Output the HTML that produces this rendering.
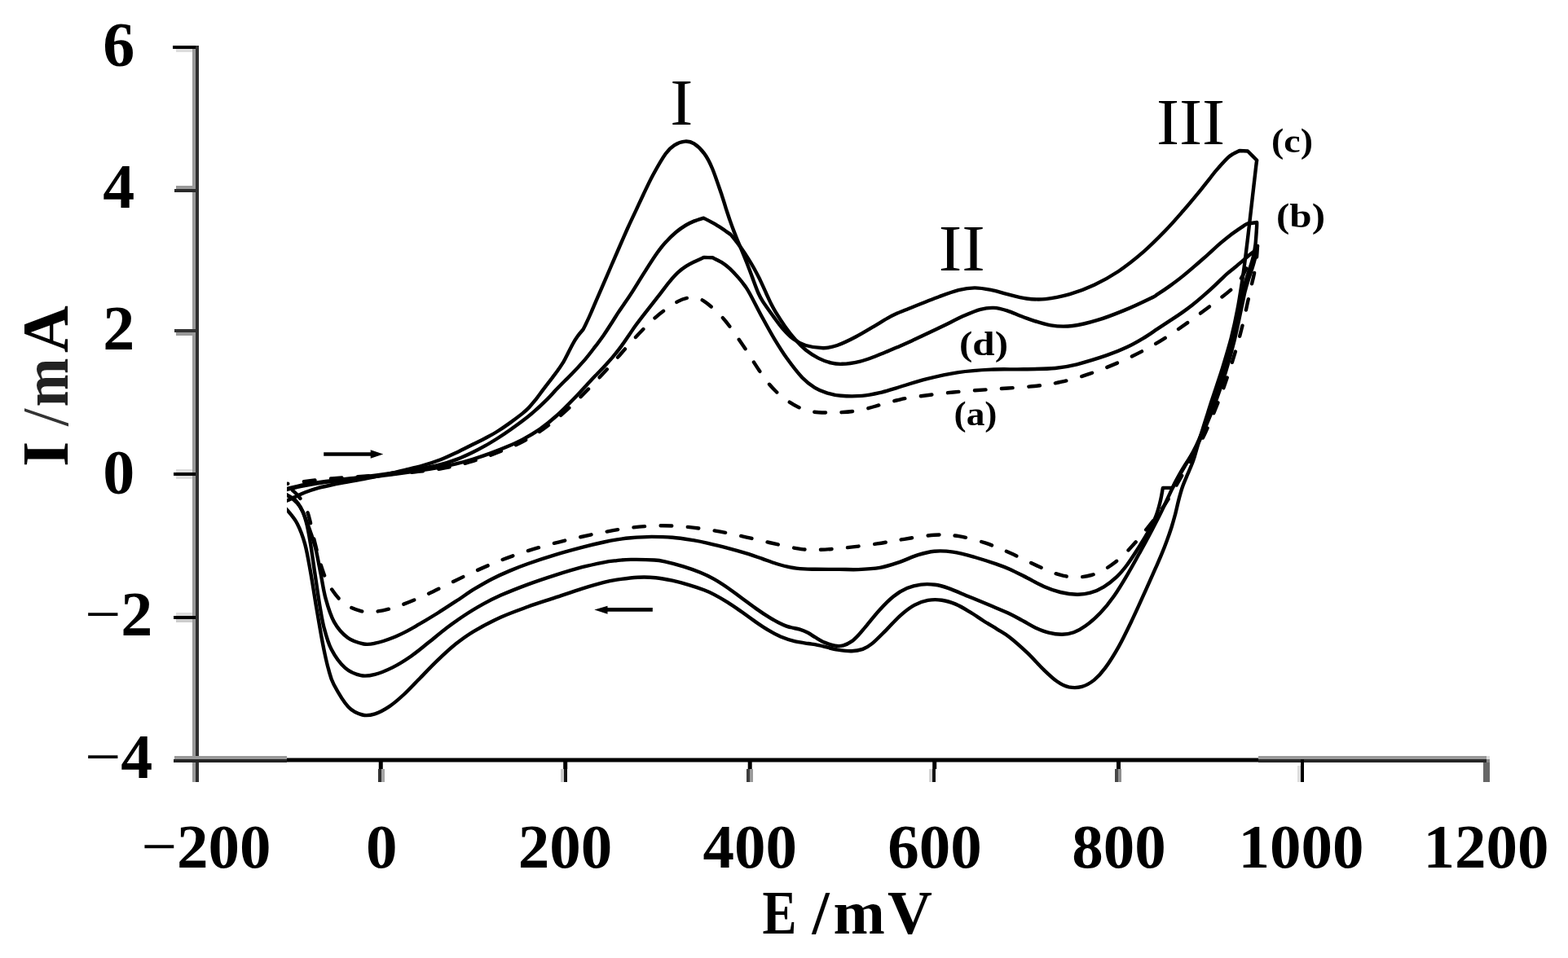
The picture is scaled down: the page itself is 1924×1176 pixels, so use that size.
<!DOCTYPE html>
<html><head><meta charset="utf-8"><title>Cyclic voltammograms</title>
<style>html,body{margin:0;padding:0;background:#fff}svg{display:block}</style></head>
<body>
<svg width="1924" height="1176" viewBox="0 0 1924 1176">
<rect width="1924" height="1176" fill="#fff"/>
<defs><clipPath id="cp"><rect x="352" y="0" width="1572" height="1176"/></clipPath></defs>
<rect x="236" y="58" width="4" height="902" fill="#999"/><rect x="240" y="56" width="4" height="904" fill="#2e2e2e"/>
<rect x="212" y="56" width="28" height="4" fill="#000"/><rect x="216" y="60" width="20" height="4" fill="#ddd"/>
<rect x="216" y="228" width="20" height="4" fill="#999"/><rect x="214" y="232" width="26" height="4" fill="#2a2a2a"/>
<rect x="214" y="404" width="26" height="4" fill="#333"/><rect x="216" y="408" width="20" height="4" fill="#999"/>
<rect x="213" y="580" width="27" height="4" fill="#000"/><rect x="216" y="576" width="20" height="4" fill="#ddd"/><rect x="216" y="584" width="20" height="4" fill="#ddd"/>
<rect x="213" y="756" width="27" height="4" fill="#000"/><rect x="216" y="752" width="20" height="4" fill="#ddd"/><rect x="216" y="760" width="20" height="4" fill="#ccc"/>
<rect x="214" y="928" width="138" height="4" fill="#999"/><rect x="213" y="932" width="139" height="4" fill="#222"/>
<rect x="1544" y="928" width="280" height="4" fill="#999"/><rect x="1544" y="932" width="280" height="4" fill="#262626"/><rect x="1824" y="928" width="4" height="4" fill="#ddd"/>
<rect x="352" y="930.5" width="1192" height="5" fill="#000"/>
<rect x="464.75" y="933" width="5" height="11" fill="#000"/>
<rect x="691.20" y="933" width="5" height="11" fill="#000"/>
<rect x="917.70" y="933" width="5" height="11" fill="#000"/>
<rect x="1144.20" y="933" width="5" height="11" fill="#000"/>
<rect x="1370.00" y="933" width="5" height="11" fill="#000"/>
<rect x="464" y="944" width="4" height="16" fill="rgb(49,49,49)"/>
<rect x="468" y="944" width="4" height="16" fill="rgb(166,166,166)"/>
<rect x="688" y="944" width="4" height="16" fill="rgb(202,202,202)"/>
<rect x="692" y="944" width="4" height="16" fill="rgb(20,20,20)"/>
<rect x="916" y="944" width="4" height="16" fill="rgb(61,61,61)"/>
<rect x="920" y="944" width="4" height="16" fill="rgb(155,155,155)"/>
<rect x="1140" y="944" width="4" height="16" fill="rgb(213,213,213)"/>
<rect x="1144" y="944" width="4" height="16" fill="rgb(20,20,20)"/>
<rect x="1368" y="944" width="4" height="16" fill="rgb(72,72,72)"/>
<rect x="1372" y="944" width="4" height="16" fill="rgb(143,143,143)"/>
<rect x="1596" y="932" width="4" height="28" fill="#000"/><rect x="1592" y="940" width="4" height="20" fill="#ddd"/>
<rect x="1820" y="936" width="8" height="24" fill="#666"/><rect x="1824" y="932" width="4" height="4" fill="#888"/>
<g clip-path="url(#cp)" fill="none" stroke="#000" stroke-width="4.4" stroke-linecap="round" stroke-linejoin="round">
<path d="M340.0 619.0C342.0 618.3 348.3 616.1 351.8 614.6C355.4 613.2 357.6 611.9 361.3 610.3C365.0 608.6 369.2 606.4 374.1 604.5C379.1 602.6 385.3 600.5 391.0 598.9C396.6 597.4 402.3 596.2 408.0 595.0C413.7 593.9 417.9 593.2 425.0 591.9C432.1 590.6 442.0 588.9 450.5 587.2C459.0 585.5 467.7 583.7 476.0 581.9C484.2 580.1 492.7 578.0 500.1 576.2C507.4 574.4 513.4 573.0 520.0 571.0C526.7 569.1 533.2 567.1 539.9 564.5C546.6 561.9 553.6 558.6 560.4 555.4C567.1 552.3 574.4 548.4 580.2 545.5C586.0 542.6 590.3 540.6 595.3 538.0C600.3 535.3 605.3 532.7 610.4 529.5C615.6 526.3 621.0 522.6 626.1 518.9C631.2 515.2 637.4 510.5 641.3 507.4C645.1 504.2 646.5 502.9 649.2 500.1C652.0 497.2 654.7 493.8 657.7 490.1C660.6 486.4 663.6 482.1 666.8 477.9C670.0 473.6 674.1 468.3 677.0 464.6C679.8 460.8 681.8 458.3 684.0 455.2C686.2 452.2 688.8 448.3 690.2 446.1C691.7 443.9 690.5 446.0 692.6 442.0C694.8 437.9 700.4 426.6 703.1 421.7C705.8 416.8 707.0 415.3 709.0 412.4C711.1 409.6 714.4 405.8 715.5 404.5C716.3 403.0 718.4 398.9 720.0 395.4C721.7 391.9 723.5 387.9 725.4 383.5C727.3 379.2 729.4 374.1 731.4 369.4C733.5 364.7 735.7 359.5 737.6 355.2C739.5 350.9 740.4 348.6 742.7 343.4C744.9 338.2 748.2 330.7 751.0 324.0C753.9 317.4 756.7 310.8 759.9 303.5C763.1 296.1 766.9 287.5 770.2 280.0C773.6 272.5 777.0 265.3 780.2 258.6C783.3 251.9 785.6 247.0 789.0 239.7C792.5 232.5 796.4 223.7 801.0 215.2C805.7 206.6 812.5 194.6 816.9 188.5C821.3 182.3 823.4 180.8 827.3 178.3C831.3 175.8 836.6 173.9 840.6 173.6C844.7 173.3 847.8 173.9 851.7 176.4C855.6 178.9 860.4 183.3 864.1 188.4C867.9 193.5 870.5 198.4 874.1 207.0C877.7 215.6 883.0 231.9 885.8 239.9C888.5 248.0 889.0 250.2 890.6 255.3C892.3 260.4 894.0 265.7 895.7 270.6C897.4 275.5 899.2 280.4 900.9 284.9C902.6 289.3 904.2 293.0 905.8 297.1C907.5 301.2 909.1 304.8 911.0 309.4C912.9 314.0 915.2 319.6 917.2 324.7C919.2 329.8 920.7 334.3 923.0 340.1C925.2 346.0 928.3 354.9 930.6 360.0C932.8 365.0 933.2 365.7 936.2 370.4C939.3 375.1 944.8 382.7 948.7 388.1C952.6 393.4 955.5 397.9 959.6 402.5C963.7 407.2 968.5 412.5 973.3 416.1C978.2 419.7 982.6 422.2 988.7 424.0C994.9 425.9 1003.8 427.2 1010.2 427.2C1016.7 427.2 1020.6 426.3 1027.2 424.0C1033.8 421.7 1042.4 417.5 1050.0 413.5C1057.6 409.6 1066.4 404.1 1072.9 400.3C1079.3 396.5 1084.1 393.4 1088.6 390.9C1093.1 388.3 1096.4 386.7 1099.9 385.1C1103.4 383.4 1100.9 384.5 1109.7 381.0C1118.5 377.5 1141.7 368.1 1152.8 364.0C1163.9 359.8 1168.9 357.9 1176.1 356.1C1183.3 354.4 1189.3 353.5 1196.0 353.4C1202.6 353.4 1209.3 354.6 1216.0 355.9C1222.6 357.1 1228.7 359.5 1236.0 361.2C1243.2 363.0 1251.7 365.5 1259.5 366.5C1267.3 367.5 1273.9 368.0 1282.7 367.1C1291.6 366.2 1302.6 364.0 1312.6 361.2C1322.6 358.3 1332.7 354.5 1342.7 349.8C1352.7 345.1 1362.5 339.6 1372.5 333.0C1382.4 326.3 1393.0 317.9 1402.5 309.7C1412.0 301.4 1421.3 291.9 1429.5 283.5C1437.8 275.0 1445.0 266.6 1451.8 258.8C1458.6 251.1 1464.9 243.5 1470.3 236.9C1475.7 230.3 1480.6 223.9 1484.3 219.3C1487.9 214.7 1488.7 213.4 1492.4 209.1C1496.2 204.8 1503.2 197.0 1506.6 193.7C1510.1 190.3 1510.6 190.4 1513.0 189.0C1515.4 187.5 1519.7 185.7 1521.0 185.0C1522.7 185.1 1529.3 185.4 1531.0 185.5C1532.9 187.4 1540.3 194.8 1542.2 196.7C1542.0 198.1 1542.0 197.5 1541.1 205.0C1540.2 212.5 1538.2 230.1 1536.9 241.6C1535.6 253.1 1534.5 262.5 1533.2 274.0C1531.9 285.6 1530.2 299.8 1528.8 311.0C1527.4 322.1 1526.5 329.5 1524.8 341.0C1523.0 352.5 1520.8 367.7 1518.4 380.0C1516.1 392.3 1513.8 402.7 1510.7 415.0C1507.5 427.2 1503.5 440.3 1499.5 453.5C1495.4 466.7 1490.5 480.4 1486.1 494.0C1481.8 507.7 1476.5 524.1 1473.2 535.1C1469.8 546.1 1467.7 554.2 1465.9 560.0C1464.1 565.7 1464.1 565.8 1462.5 569.8C1461.0 573.8 1458.4 579.4 1456.5 583.9C1454.6 588.5 1452.7 592.6 1451.1 597.2C1449.5 601.7 1448.4 605.8 1446.9 611.4C1445.4 616.9 1443.8 624.5 1442.3 630.5C1440.7 636.4 1439.3 641.4 1437.6 647.0C1435.8 652.6 1433.8 658.4 1431.8 663.8C1429.8 669.3 1427.9 674.3 1425.5 679.9C1423.2 685.6 1421.5 689.3 1417.8 697.7C1414.1 706.1 1408.1 719.7 1403.3 730.2C1398.5 740.7 1394.3 750.4 1389.2 760.9C1384.1 771.5 1378.3 783.7 1372.8 793.6C1367.3 803.4 1361.3 813.0 1356.2 819.9C1351.1 826.8 1347.1 831.0 1342.4 834.9C1337.6 838.7 1332.7 841.5 1327.6 842.9C1322.4 844.4 1316.6 844.4 1311.5 843.4C1306.5 842.3 1302.2 840.1 1297.1 836.5C1291.9 833.0 1286.8 828.0 1280.7 822.1C1274.7 816.3 1267.5 808.0 1260.6 801.4C1253.6 794.8 1245.2 787.3 1239.1 782.5C1233.1 777.8 1229.7 776.2 1224.2 772.8C1218.8 769.4 1212.4 765.7 1206.6 762.0C1200.8 758.3 1195.3 754.3 1189.6 750.9C1184.0 747.5 1178.2 743.9 1172.6 741.6C1166.9 739.2 1161.2 737.4 1155.6 736.7C1149.9 735.9 1144.1 735.9 1138.5 736.9C1132.9 737.9 1127.5 739.7 1121.9 742.9C1116.2 746.0 1110.2 750.8 1104.5 755.8C1098.8 760.9 1093.4 767.4 1087.7 773.1C1082.0 778.7 1075.2 785.9 1070.3 789.9C1065.5 793.8 1062.8 795.3 1058.6 796.9C1054.4 798.4 1050.1 799.2 1045.0 799.3C1039.9 799.5 1033.7 798.6 1028.0 797.7C1022.4 796.7 1015.7 794.7 1011.0 793.6C1006.3 792.5 1003.2 791.8 1000.0 791.2C996.7 790.6 995.9 790.7 991.7 790.0C987.5 789.3 980.4 788.6 974.8 787.2C969.1 785.7 962.9 783.6 957.8 781.5C952.6 779.3 948.9 777.2 943.8 774.2C938.7 771.2 932.8 767.3 927.2 763.4C921.6 759.6 915.7 755.1 910.0 751.0C904.2 747.0 898.4 742.9 892.8 739.4C887.2 735.9 881.1 732.4 876.3 729.9C871.5 727.4 869.0 726.2 863.9 724.3C858.7 722.3 852.0 720.0 845.5 718.1C839.1 716.2 831.8 714.2 825.0 712.7C818.2 711.2 811.7 709.8 804.6 709.2C797.5 708.5 790.5 708.3 782.6 708.7C774.6 709.2 763.8 710.6 756.9 711.6C749.9 712.7 748.0 713.0 740.9 714.9C733.8 716.7 724.2 719.5 714.2 722.6C704.2 725.8 692.1 730.0 681.0 733.7C669.9 737.4 658.8 740.8 647.8 744.8C636.8 748.8 626.0 752.5 614.9 757.5C603.9 762.5 590.8 769.4 581.6 774.8C572.3 780.3 566.9 784.4 559.5 790.3C552.2 796.2 544.7 803.1 537.4 810.2C530.0 817.2 522.3 825.4 515.4 832.5C508.4 839.5 501.9 846.6 495.6 852.5C489.3 858.3 483.4 863.5 477.5 867.4C471.6 871.4 465.6 874.6 460.1 876.3C454.6 878.0 450.0 878.9 444.6 877.5C439.1 876.1 433.3 874.0 427.4 867.8C421.6 861.6 413.7 848.0 409.6 840.3C405.5 832.5 404.9 827.9 403.0 821.2C401.0 814.5 399.5 807.0 398.0 800.0C396.5 792.9 395.6 787.9 393.9 778.7C392.3 769.4 390.2 757.3 388.0 744.5C385.9 731.7 383.3 714.7 381.0 701.9C378.7 689.2 376.9 677.7 374.2 667.9C371.5 658.0 368.4 649.9 364.8 642.9C361.1 636.0 356.6 630.9 352.5 626.3C348.3 621.6 342.1 616.9 340.0 615.0"/>
<path d="M340.0 603.0C342.0 602.5 346.3 601.3 352.0 600.0C357.7 598.6 366.1 596.5 374.0 595.0C381.9 593.6 388.2 592.5 399.5 591.0C410.9 589.4 429.2 587.4 441.9 585.9C454.7 584.3 464.2 583.1 476.1 581.5C487.9 579.9 502.4 577.9 513.0 576.0C523.7 574.2 532.0 572.5 539.9 570.5C547.8 568.5 553.8 566.4 560.5 563.9C567.1 561.4 574.2 558.1 580.0 555.3C585.8 552.5 590.2 550.1 595.4 547.2C600.5 544.3 605.5 541.2 610.6 538.0C615.7 534.8 620.8 531.4 625.9 527.8C631.0 524.2 636.2 520.5 641.3 516.6C646.4 512.7 651.4 508.7 656.5 504.2C661.5 499.8 667.4 494.1 671.7 489.9C675.9 485.6 678.6 482.5 682.0 478.8C685.5 475.2 689.3 471.3 692.6 468.0C695.8 464.7 697.5 463.4 701.6 459.1C705.7 454.8 712.5 447.4 717.2 442.1C721.8 436.7 725.5 431.8 729.4 426.7C733.4 421.6 737.3 416.2 740.7 411.4C744.0 406.7 746.6 402.6 749.5 398.0C752.5 393.5 755.6 388.3 758.3 384.1C761.1 379.9 763.4 376.7 766.1 372.7C768.8 368.7 770.5 366.7 774.6 360.2C778.7 353.8 785.7 342.2 790.9 334.1C796.1 325.9 801.4 317.5 805.8 311.3C810.2 305.2 813.1 301.4 817.1 297.1C821.0 292.7 825.4 288.5 829.5 285.0C833.6 281.6 837.7 278.8 841.5 276.5C845.2 274.2 848.3 272.9 851.9 271.4C855.5 269.9 861.4 268.2 863.3 267.6C865.3 268.6 871.3 271.7 875.2 273.9C879.1 276.1 882.9 278.5 886.5 280.8C890.1 283.2 895.0 286.8 896.7 288.0C897.9 289.5 901.6 294.0 904.0 297.1C906.3 300.1 908.5 302.9 910.9 306.4C913.3 309.8 915.8 313.7 918.2 317.6C920.7 321.5 923.0 325.5 925.4 329.8C927.7 334.0 929.9 338.1 932.4 343.1C934.8 348.2 938.2 355.6 940.2 360.2C942.3 364.7 943.1 366.7 944.9 370.4C946.8 374.1 948.3 377.2 951.3 382.3C954.4 387.4 959.3 395.1 963.4 400.9C967.5 406.7 971.7 412.2 976.0 417.0C980.3 421.9 984.5 426.2 989.2 430.0C993.9 433.7 999.1 437.0 1004.1 439.6C1009.2 442.2 1014.6 444.1 1019.4 445.3C1024.3 446.5 1027.5 447.1 1033.3 446.8C1039.2 446.6 1047.9 445.3 1054.6 443.8C1061.2 442.3 1067.6 439.8 1073.2 437.7C1078.8 435.7 1083.9 433.5 1088.3 431.6C1092.8 429.8 1094.8 428.9 1100.1 426.6C1105.3 424.3 1110.9 421.9 1119.7 417.9C1128.5 413.8 1142.3 407.4 1152.8 402.3C1163.3 397.3 1174.5 391.4 1182.9 387.6C1191.3 383.9 1196.9 381.4 1203.0 379.8C1209.1 378.2 1214.0 377.6 1219.5 377.9C1224.9 378.2 1229.1 379.3 1235.8 381.4C1242.5 383.5 1250.6 387.7 1259.6 390.7C1268.5 393.7 1280.1 397.9 1289.5 399.4C1298.9 400.9 1306.5 401.0 1315.9 400.0C1325.3 398.9 1335.5 396.4 1346.0 393.2C1356.5 390.1 1368.0 385.6 1379.0 381.1C1390.1 376.5 1405.5 369.2 1412.3 365.9C1419.2 362.6 1416.3 363.9 1420.1 361.4C1424.0 358.9 1430.3 354.7 1435.3 351.1C1440.4 347.4 1445.4 343.7 1450.5 339.6C1455.6 335.6 1460.9 331.0 1466.0 326.6C1471.1 322.2 1476.1 317.8 1481.2 313.3C1486.2 308.8 1491.6 303.8 1496.3 299.7C1501.0 295.7 1504.4 292.6 1509.3 288.9C1514.2 285.2 1521.9 280.0 1525.5 277.6C1529.1 275.2 1530.1 275.0 1531.0 274.5C1532.9 274.2 1540.3 273.2 1542.2 273.0C1542.2 274.2 1542.3 275.5 1542.0 280.0C1541.7 284.5 1541.1 294.2 1540.5 300.0C1539.8 305.8 1538.9 310.3 1537.8 315.0C1536.8 319.6 1535.4 323.6 1534.0 328.0C1532.6 332.3 1531.1 336.1 1529.7 341.1C1528.2 346.1 1526.6 351.5 1525.1 358.0C1523.6 364.5 1522.7 370.2 1520.6 380.0C1518.5 389.8 1515.6 404.4 1512.5 416.9C1509.3 429.4 1505.8 442.0 1501.8 455.1C1497.7 468.1 1493.5 481.1 1488.4 495.2C1483.3 509.2 1475.6 529.1 1471.2 539.6C1466.8 550.1 1465.2 552.2 1462.0 558.2C1458.7 564.2 1455.2 570.0 1451.9 575.6C1448.6 581.3 1444.6 588.1 1442.3 592.3C1440.0 596.5 1439.9 596.7 1437.9 600.8C1435.9 605.0 1432.8 611.7 1430.2 617.3C1427.6 622.8 1424.9 628.5 1422.1 634.0C1419.3 639.6 1417.3 643.4 1413.5 650.6C1409.7 657.8 1404.3 667.9 1399.2 677.1C1394.2 686.3 1388.6 696.7 1383.1 705.8C1377.7 715.0 1372.0 724.5 1366.5 732.2C1361.0 740.0 1355.8 746.5 1350.0 752.6C1344.3 758.6 1337.4 764.4 1332.0 768.3C1326.6 772.3 1322.4 774.4 1317.6 776.2C1312.8 777.9 1308.5 778.7 1303.3 778.8C1298.2 778.9 1292.2 778.0 1286.8 776.6C1281.4 775.3 1275.8 773.0 1270.8 770.7C1265.7 768.4 1261.6 765.6 1256.4 762.8C1251.2 760.0 1246.4 757.0 1239.5 753.7C1232.7 750.5 1223.6 746.8 1215.3 743.3C1207.0 739.8 1198.3 736.3 1189.7 732.7C1181.1 729.2 1171.0 724.6 1163.9 722.1C1156.8 719.6 1152.7 718.5 1147.0 717.8C1141.3 717.0 1135.6 716.9 1130.0 717.6C1124.3 718.3 1118.6 719.6 1113.0 722.1C1107.4 724.5 1101.8 727.8 1096.2 732.3C1090.5 736.9 1084.6 743.0 1078.9 749.2C1073.2 755.4 1066.1 764.6 1061.9 769.6C1057.7 774.6 1056.6 776.3 1053.7 779.2C1050.9 782.2 1048.0 785.3 1044.9 787.4C1041.7 789.6 1038.1 791.5 1034.7 792.4C1031.4 793.3 1028.6 793.4 1024.6 792.7C1020.7 792.0 1015.1 790.1 1011.0 788.4C1007.0 786.6 1003.4 784.1 1000.1 782.2C996.9 780.3 994.6 778.4 991.5 776.8C988.4 775.2 985.0 773.8 981.4 772.7C977.7 771.6 973.1 771.0 969.7 770.0C966.3 769.1 965.3 769.2 961.0 767.1C956.7 765.1 949.6 761.3 944.0 757.8C938.3 754.4 932.7 750.6 927.1 746.6C921.4 742.6 915.6 738.2 909.9 734.0C904.3 729.9 898.9 725.6 893.2 721.7C887.5 717.8 881.4 713.8 875.7 710.6C870.1 707.4 865.5 705.2 859.3 702.7C853.0 700.2 845.5 697.6 838.4 695.4C831.3 693.2 822.7 690.9 816.7 689.6C810.8 688.3 809.9 687.9 802.8 687.5C795.6 687.0 781.7 686.8 774.0 686.9C766.4 687.0 762.5 687.5 756.9 688.1C751.4 688.7 748.0 688.9 740.9 690.3C733.8 691.7 724.2 693.6 714.3 696.2C704.3 698.9 692.1 702.6 681.0 706.1C670.0 709.6 658.9 713.3 647.9 717.4C636.9 721.5 624.0 726.6 614.8 730.6C605.6 734.7 600.0 737.6 592.6 741.6C585.3 745.7 577.8 750.1 570.5 755.0C563.1 759.8 555.9 765.0 548.5 770.5C541.2 776.1 533.8 782.4 526.4 788.3C519.0 794.1 511.5 800.5 504.1 805.7C496.7 810.8 489.4 815.4 482.1 819.1C474.7 822.8 466.7 826.2 460.1 827.8C453.6 829.5 448.9 830.4 442.8 829.1C436.7 827.8 429.5 825.2 423.5 819.9C417.4 814.6 410.9 805.4 406.6 797.1C402.3 788.8 400.0 779.7 397.5 770.2C395.0 760.7 393.8 751.7 391.8 740.0C389.9 728.3 387.6 711.7 385.8 700.0C384.1 688.3 382.9 679.1 381.4 669.9C379.9 660.8 378.4 652.1 376.8 645.0C375.1 638.0 373.4 632.4 371.4 627.8C369.4 623.2 367.8 620.7 364.6 617.4C361.4 614.0 356.1 610.2 352.0 607.7C347.9 605.1 342.0 602.9 340.0 602.0"/>
<path d="M340.0 604.0C342.0 603.5 346.3 602.3 352.0 601.0C357.7 599.6 366.1 597.5 374.0 596.0C381.9 594.5 388.2 593.4 399.5 591.9C410.9 590.5 429.2 588.6 442.0 587.1C454.7 585.6 466.3 584.3 476.0 583.0C485.7 581.8 489.4 581.3 500.0 579.8C510.7 578.2 529.8 575.3 539.9 573.5C550.0 571.7 553.7 570.8 560.5 569.2C567.3 567.5 574.0 565.6 580.8 563.5C587.5 561.4 594.4 559.1 601.2 556.6C608.1 554.1 614.9 551.5 621.7 548.6C628.5 545.7 635.2 542.8 642.0 539.1C648.8 535.5 655.6 531.6 662.4 526.9C669.2 522.1 676.0 516.6 682.8 510.5C689.7 504.4 696.6 497.3 703.4 490.3C710.2 483.3 719.0 473.5 723.7 468.5C728.4 463.5 728.6 463.3 731.6 460.2C734.5 457.1 738.0 453.7 741.4 450.0C744.8 446.3 748.5 442.2 752.0 438.1C755.4 434.1 758.6 430.1 761.9 425.6C765.2 421.1 768.8 415.7 771.9 411.2C775.0 406.8 776.4 404.4 780.5 398.8C784.6 393.3 791.5 384.4 796.6 377.9C801.6 371.4 806.6 365.1 810.7 359.8C814.8 354.5 817.8 350.3 821.3 346.1C824.7 342.0 828.0 338.1 831.4 334.9C834.8 331.7 838.3 329.1 841.7 326.9C845.1 324.6 848.0 323.2 851.7 321.4C855.3 319.6 861.6 316.9 863.6 316.0C865.4 316.1 872.5 316.2 874.3 316.3C876.1 317.2 881.8 319.7 885.3 321.9C888.9 324.2 892.2 326.7 895.7 329.8C899.1 333.0 903.0 337.3 906.1 340.9C909.2 344.4 911.9 347.9 914.2 351.1C916.5 354.3 916.3 353.7 919.9 360.2C923.5 366.7 930.6 380.9 935.7 390.3C940.8 399.7 945.5 408.3 950.5 416.6C955.5 424.8 959.8 431.9 965.5 439.8C971.2 447.7 978.9 457.8 984.6 463.8C990.3 469.8 994.7 472.8 999.7 475.9C1004.7 479.0 1009.3 480.8 1014.6 482.4C1020.0 484.1 1024.6 485.3 1031.8 485.8C1039.0 486.4 1049.8 486.5 1057.7 485.9C1065.6 485.3 1072.3 483.8 1079.3 482.2C1086.3 480.6 1090.3 479.1 1099.8 476.3C1109.3 473.5 1123.6 468.6 1136.3 465.4C1149.0 462.2 1162.6 459.1 1175.9 457.1C1189.2 455.1 1202.7 454.2 1216.0 453.6C1229.4 452.9 1242.9 453.6 1256.0 453.3C1269.1 453.1 1283.7 453.0 1294.6 452.0C1305.5 451.0 1310.8 449.9 1321.4 447.3C1331.9 444.6 1347.8 439.7 1358.0 436.2C1368.1 432.7 1375.1 429.8 1382.5 426.3C1389.9 422.9 1396.3 419.2 1402.6 415.4C1408.9 411.6 1414.9 407.3 1420.4 403.7C1425.8 400.1 1430.2 397.1 1435.2 393.8C1440.3 390.5 1446.0 386.9 1450.6 383.6C1455.2 380.4 1458.6 377.9 1462.9 374.5C1467.2 371.1 1471.5 367.5 1476.2 363.4C1480.9 359.3 1487.0 353.8 1491.2 349.8C1495.5 345.9 1498.8 342.4 1501.6 339.8C1504.4 337.1 1505.6 336.1 1508.1 334.0C1510.5 331.9 1513.9 329.4 1516.6 327.2C1519.3 324.9 1521.5 322.9 1524.3 320.6C1527.0 318.2 1530.1 315.5 1533.0 313.0C1536.0 310.6 1540.5 307.2 1542.0 306.0C1541.7 307.7 1541.1 312.3 1540.3 316.0C1539.4 319.6 1538.3 323.6 1536.9 328.0C1535.6 332.3 1533.7 337.0 1532.2 342.1C1530.6 347.1 1529.2 351.7 1527.6 358.0C1526.1 364.4 1525.1 370.1 1522.9 380.0C1520.8 390.0 1517.8 405.2 1514.6 417.9C1511.5 430.5 1508.1 443.1 1504.1 456.1C1500.0 469.2 1495.8 482.1 1490.5 496.1C1485.2 510.2 1476.8 530.1 1472.0 540.5C1467.3 550.8 1465.6 552.5 1462.1 558.3C1458.6 564.2 1454.5 570.0 1451.1 575.7C1447.7 581.4 1443.8 588.6 1441.7 592.5C1439.7 596.4 1439.3 597.8 1438.8 598.9C1436.8 598.9 1428.9 598.9 1426.9 598.9C1426.4 601.4 1425.3 608.6 1424.1 613.8C1422.9 619.1 1421.4 625.1 1419.5 630.4C1417.7 635.8 1414.8 641.8 1412.8 645.9C1410.9 650.0 1410.6 650.1 1407.7 654.9C1404.7 659.8 1399.3 668.7 1395.2 675.2C1391.1 681.6 1387.0 688.1 1382.9 693.5C1378.8 699.0 1375.3 703.3 1370.5 707.8C1365.8 712.2 1359.9 717.0 1354.5 720.3C1349.0 723.7 1343.4 726.2 1337.9 727.7C1332.4 729.3 1327.7 729.8 1321.6 729.7C1315.5 729.6 1308.0 728.6 1301.2 727.0C1294.4 725.3 1287.6 722.8 1280.9 719.9C1274.1 717.0 1267.5 713.0 1260.6 709.5C1253.7 706.0 1245.7 701.7 1239.5 698.9C1233.3 696.1 1230.4 695.2 1223.2 692.7C1216.0 690.2 1205.1 686.6 1196.1 684.0C1187.2 681.5 1177.8 678.8 1169.5 677.6C1161.2 676.4 1153.5 676.1 1146.3 676.7C1139.2 677.3 1133.9 678.9 1126.6 681.2C1119.4 683.4 1110.6 687.7 1102.8 690.3C1095.0 692.9 1088.0 695.4 1079.7 696.9C1071.4 698.3 1061.5 698.8 1053.2 699.1C1044.9 699.4 1038.8 699.0 1029.9 698.9C1021.0 698.9 1007.2 698.9 1000.0 698.8C992.8 698.8 991.6 698.9 986.6 698.4C981.5 698.0 975.3 697.4 969.6 696.3C964.0 695.3 958.4 693.7 952.7 692.0C947.0 690.3 941.1 687.9 935.4 685.9C929.8 684.0 925.7 682.4 918.7 680.2C911.6 678.0 901.5 675.1 893.0 672.9C884.5 670.6 874.7 668.3 867.6 666.7C860.6 665.0 857.6 664.4 850.5 663.2C843.4 662.1 833.5 660.5 825.0 659.8C816.5 659.1 808.0 658.9 799.5 658.9C791.0 659.0 781.1 659.7 774.0 660.3C766.9 660.9 762.5 661.5 757.0 662.4C751.5 663.2 747.9 663.9 740.8 665.5C733.7 667.0 724.2 669.2 714.2 671.9C704.3 674.5 692.2 677.7 681.1 681.1C670.1 684.4 657.1 688.7 647.9 692.0C638.7 695.2 633.1 697.5 625.7 700.6C618.3 703.7 611.0 707.0 603.7 710.7C596.4 714.5 589.2 718.7 581.8 723.2C574.4 727.8 566.8 733.3 559.3 738.2C551.9 743.0 544.8 747.7 537.2 752.5C529.6 757.2 519.8 763.0 513.5 766.7C507.2 770.4 504.8 771.9 499.6 774.6C494.4 777.3 488.7 780.2 482.1 782.7C475.5 785.3 466.0 788.4 460.0 789.7C454.0 791.0 451.7 791.6 446.2 790.5C440.7 789.4 432.9 787.5 426.9 783.1C420.9 778.6 414.7 771.9 410.2 763.9C405.7 756.0 402.4 745.0 399.7 735.2C396.9 725.4 395.7 715.1 393.7 705.1C391.7 695.0 389.4 682.6 387.7 675.1C385.9 667.6 384.4 663.6 383.3 660.0C382.2 656.4 382.2 656.6 381.1 653.4C379.9 650.2 378.2 645.0 376.6 640.8C375.0 636.6 373.3 631.9 371.4 628.0C369.6 624.2 367.3 620.3 365.6 617.7C363.8 615.2 363.1 614.5 360.9 612.8C358.7 611.1 355.8 609.4 352.3 607.6C348.9 605.8 342.1 602.9 340.0 602.0"/>
<path d="M340.0 595.5C342.0 595.2 344.1 594.9 352.0 593.9C359.9 592.9 376.1 590.6 387.6 589.4C399.1 588.1 409.6 587.2 420.8 586.3C432.0 585.5 444.9 584.8 454.8 584.1C464.6 583.4 470.3 583.0 480.0 582.1C489.7 581.3 503.1 580.0 513.0 578.9C523.0 577.8 532.0 576.7 539.9 575.5C547.8 574.2 553.7 573.0 560.5 571.4C567.3 569.8 574.0 567.9 580.8 565.9C587.6 563.8 594.4 561.5 601.2 559.0C608.0 556.6 614.9 553.9 621.7 551.0C628.5 548.1 635.3 545.3 642.0 541.7C648.8 538.2 655.1 534.8 662.3 529.8C669.5 524.9 677.4 518.9 685.4 512.1C693.4 505.4 702.2 497.1 710.4 489.2C718.5 481.3 726.4 473.0 734.3 464.7C742.1 456.4 750.3 447.2 757.4 439.3C764.5 431.4 768.9 425.8 776.6 417.6C784.4 409.3 795.0 397.7 804.1 389.8C813.1 382.0 823.8 374.5 831.1 370.4C838.4 366.3 842.6 365.6 847.9 365.4C853.3 365.2 856.3 365.0 863.0 369.2C869.6 373.5 879.5 381.8 887.8 391.2C896.1 400.5 906.9 417.3 912.7 425.5C918.4 433.7 919.1 435.6 922.2 440.3C925.3 445.1 928.0 449.4 931.2 454.2C934.5 459.0 938.2 464.6 941.7 469.0C945.3 473.5 948.7 477.2 952.7 481.0C956.7 484.7 961.2 488.4 965.8 491.6C970.5 494.8 975.3 497.9 980.4 500.2C985.6 502.5 990.9 504.2 996.6 505.3C1002.3 506.3 1009.3 506.4 1014.9 506.6C1020.5 506.8 1024.9 506.5 1030.2 506.3C1035.6 506.0 1041.3 505.7 1047.0 504.9C1052.6 504.1 1058.4 502.9 1063.9 501.5C1069.4 500.2 1074.0 498.6 1080.0 497.0C1086.0 495.3 1093.4 493.1 1100.0 491.5C1106.6 490.0 1108.1 489.3 1119.7 487.6C1131.3 486.0 1153.0 483.1 1169.6 481.5C1186.3 479.8 1202.9 478.9 1219.5 477.7C1236.1 476.4 1255.6 475.5 1269.4 474.0C1283.3 472.5 1291.5 471.2 1302.6 468.7C1313.7 466.3 1325.0 462.9 1336.0 459.2C1347.1 455.4 1358.1 451.1 1369.2 446.4C1380.2 441.6 1392.1 436.1 1402.4 430.7C1412.6 425.4 1421.4 420.1 1430.7 414.2C1440.1 408.2 1449.3 401.7 1458.5 395.2C1467.7 388.6 1476.8 381.9 1485.8 375.0C1494.8 368.1 1506.2 359.6 1512.5 353.8C1518.8 347.9 1518.7 348.7 1523.8 340.1C1528.9 331.5 1539.8 308.4 1543.0 302.0" stroke-dasharray="13.6 19.6"/><path d="M1543.0 302.0C1542.8 305.0 1542.3 314.5 1541.6 320.0C1541.0 325.5 1540.3 329.2 1539.1 335.0C1538.0 340.9 1535.9 348.8 1534.5 355.0C1533.1 361.2 1532.2 365.6 1530.7 372.0C1529.3 378.5 1528.0 385.2 1525.9 394.0C1523.7 402.8 1521.0 414.1 1517.8 425.0C1514.7 435.8 1510.8 448.2 1507.2 459.1C1503.6 469.9 1500.8 478.3 1496.1 490.1C1491.5 501.9 1484.6 518.8 1479.6 529.8C1474.6 540.8 1470.4 548.2 1466.2 556.1C1461.9 564.0 1457.9 570.4 1454.1 577.1C1450.3 583.7 1446.7 590.0 1443.2 596.1C1439.6 602.2 1435.9 608.9 1432.8 613.9C1429.8 618.9 1427.2 622.6 1424.9 625.9C1422.6 629.3 1420.8 631.6 1418.8 634.2C1416.9 636.7 1416.0 638.0 1413.3 641.3C1410.7 644.6 1406.5 650.0 1403.1 654.1C1399.7 658.2 1396.8 661.8 1393.1 666.0C1389.4 670.1 1385.1 675.0 1381.0 679.0C1376.9 683.0 1373.1 686.6 1368.6 690.0C1364.1 693.5 1359.0 697.0 1354.1 699.7C1349.1 702.4 1344.4 704.6 1339.0 706.0C1333.5 707.5 1327.2 708.5 1321.6 708.6C1316.0 708.8 1310.6 707.9 1305.3 706.9C1300.0 705.8 1295.2 704.1 1290.0 702.1C1284.7 700.1 1282.1 698.9 1273.7 695.0C1265.4 691.2 1250.7 683.8 1240.0 679.1C1229.3 674.4 1220.1 670.2 1209.5 666.7C1198.8 663.2 1186.8 659.8 1176.3 658.1C1165.8 656.5 1157.5 656.2 1146.4 656.8C1135.3 657.4 1121.3 660.0 1109.6 661.8C1098.0 663.6 1088.6 665.6 1076.4 667.4C1064.3 669.2 1049.3 671.3 1036.6 672.5C1023.9 673.8 1009.9 674.9 1000.0 675.0C990.1 675.1 986.5 674.6 977.2 673.1C967.8 671.6 955.0 668.5 944.0 666.0C932.9 663.5 921.9 660.6 910.9 658.3C899.9 655.9 889.0 653.5 877.8 651.6C866.6 649.7 854.9 648.0 843.7 646.9C832.5 645.9 821.8 645.2 810.6 645.3C799.4 645.4 787.9 646.2 776.6 647.5C765.4 648.7 754.1 650.8 742.9 652.9C731.8 654.9 720.8 657.3 709.8 659.8C698.7 662.2 687.8 664.7 676.7 667.7C665.7 670.7 654.2 674.0 643.5 677.5C632.8 681.0 622.9 684.6 612.6 688.6C602.3 692.7 591.9 697.2 581.6 701.9C571.3 706.5 561.1 711.7 550.8 716.6C540.4 721.6 529.9 727.1 519.6 731.6C509.3 736.2 498.2 740.9 488.7 744.0C479.3 747.2 470.6 749.5 463.0 750.5C455.3 751.5 449.8 751.9 442.8 750.1C435.7 748.3 427.3 745.0 420.7 739.5C414.1 734.1 407.5 724.6 403.1 717.2C398.7 709.8 396.5 701.4 394.3 695.3C392.2 689.2 391.7 686.5 390.1 680.7C388.5 674.8 386.5 666.7 384.9 660.0C383.3 653.4 382.0 646.1 380.7 640.6C379.3 635.1 378.7 631.9 376.7 627.2C374.8 622.5 371.7 616.7 369.0 612.7C366.2 608.6 363.0 605.4 360.1 602.9C357.3 600.3 355.2 599.1 351.9 597.2C348.5 595.4 342.0 592.9 340.0 592.0" stroke-dasharray="13.6 19.6"/>
</g>
<path d="M397.2 555.2h57.5v-2.9l15.6 5.2l-15.6 5.2v-2.9h-57.5z" fill="#000"/>
<path d="M800.8 746.1h-55.3v-2.4l-16.2 4.7l16.2 5.4v-3.1h55.3z" fill="#000"/>
<g font-family="'Liberation Serif', serif" fill="#000">
<g font-weight="bold" font-size="78" text-anchor="middle">
<text x="145.7" y="81">6</text>
<text x="145.7" y="255">4</text>
<text x="145.7" y="429">2</text>
<text x="145.7" y="605.5">0</text>
<text x="145.7" y="780"><tspan font-weight="normal">−</tspan>2</text>
<text x="145.7" y="955"><tspan font-weight="normal">−</tspan>4</text>
<text x="253.0" y="1064.5" font-size="77"><tspan font-weight="normal">−</tspan>200</text>
<text x="468.2" y="1064.5" font-size="77">0</text>
<text x="693.5" y="1064.5" font-size="77">200</text>
<text x="920.2" y="1064.5" font-size="77">400</text>
<text x="1147.0" y="1064.5" font-size="77">600</text>
<text x="1373.0" y="1064.5" font-size="77">800</text>
<text x="1596.5" y="1064.5" font-size="77">1000</text>
<text x="1823.5" y="1064.5" font-size="77">1200</text>
<text y="1145.5" font-size="76" text-anchor="start"><tspan x="935.5" textLength="42" lengthAdjust="spacingAndGlyphs">E</tspan><tspan x="977.5"> /</tspan><tspan x="1022.5">m</tspan><tspan x="1089">V</tspan></text>
<text transform="translate(83 0) rotate(-90)" font-size="80" text-anchor="start"><tspan x="-573">I</tspan><tspan x="-543.5" font-weight="normal" fill="#333"> /</tspan><tspan x="-499.5" textLength="60" lengthAdjust="spacingAndGlyphs" fill="#222">m</tspan><tspan x="-433">A</tspan></text>
</g>
<g font-size="80" text-anchor="middle">
<text x="836.3" y="152.8" textLength="28" lengthAdjust="spacingAndGlyphs">I</text><text x="1180.3" y="331.5" textLength="57" lengthAdjust="spacingAndGlyphs">II</text><text x="1461" y="177.2" textLength="84" lengthAdjust="spacingAndGlyphs">III</text>
</g>
<g font-weight="bold" font-size="43" text-anchor="middle">
<text x="1585.5" y="187" textLength="51" lengthAdjust="spacingAndGlyphs">(c)</text><text x="1596" y="279" textLength="60" lengthAdjust="spacingAndGlyphs">(b)</text><text x="1207" y="436" textLength="60" lengthAdjust="spacingAndGlyphs">(d)</text><text x="1197" y="522" textLength="53" lengthAdjust="spacingAndGlyphs">(a)</text>
</g></g>
</svg>
</body></html>
